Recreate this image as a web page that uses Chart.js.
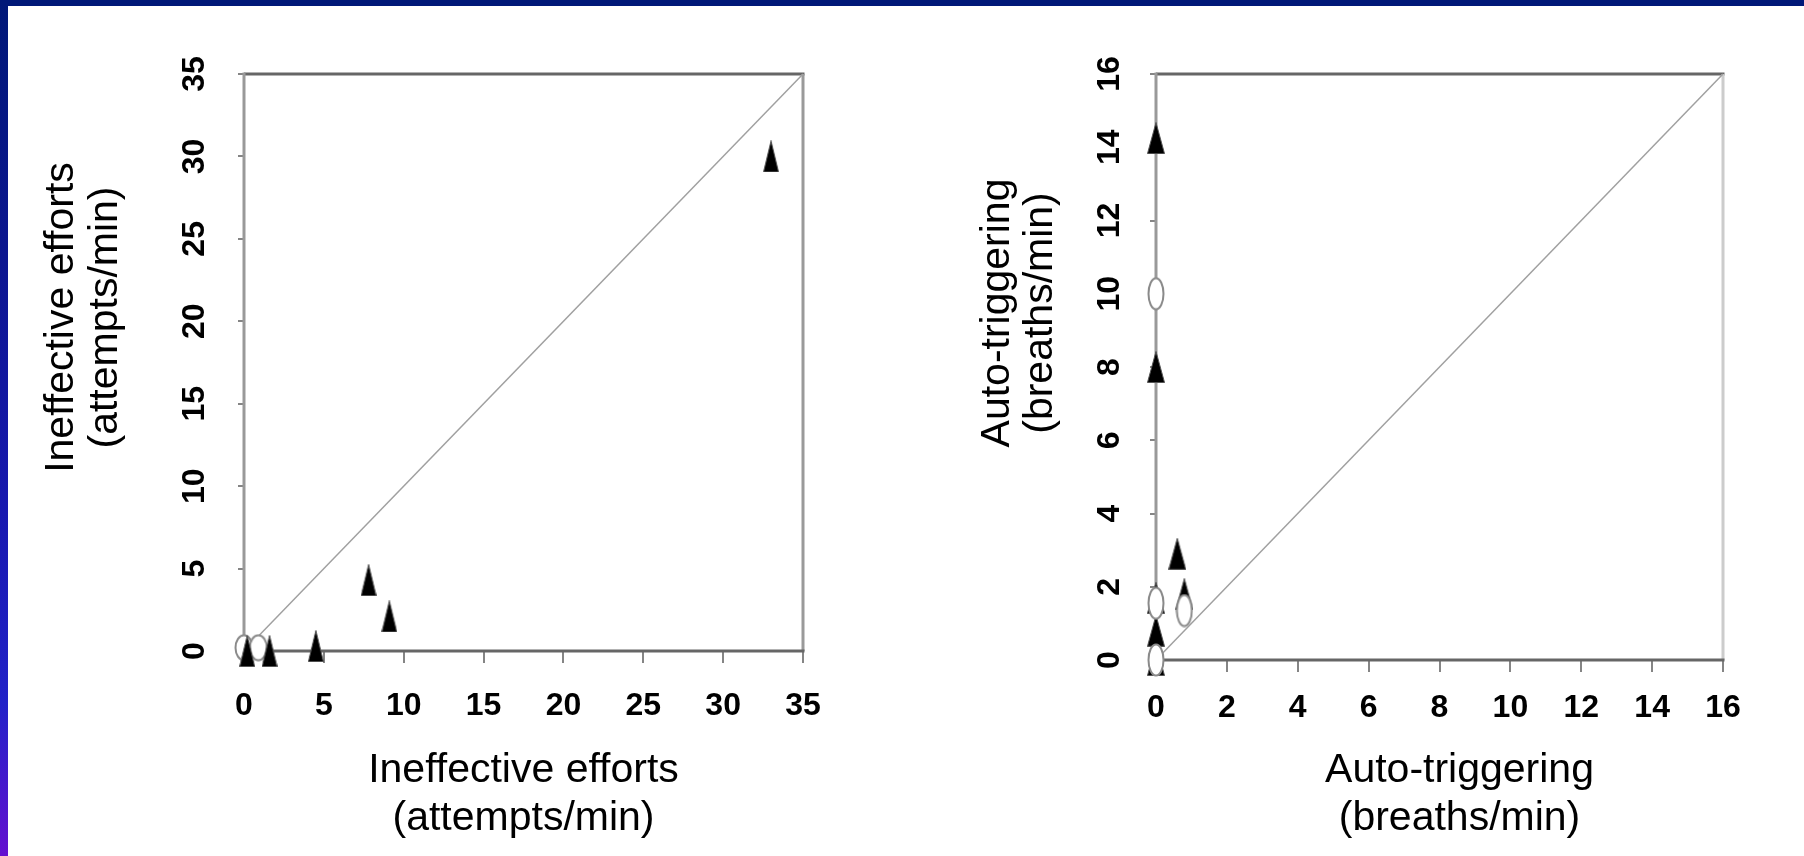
<!DOCTYPE html>
<html><head><meta charset="utf-8">
<script src="https://cdn.jsdelivr.net/npm/chart.js@4"></script>
<style>
html,body{margin:0;padding:0;background:#fff;}
body{width:1804px;height:856px;position:relative;overflow:hidden;}
#topbar{position:absolute;left:0;top:0;width:1804px;height:6px;background:#001878;z-index:3;}
#leftbar{position:absolute;left:0;top:0;width:8px;height:856px;z-index:3;background:linear-gradient(to bottom,#001878 0%,#0c1690 30%,#1818b0 60%,#2222c8 82%,#6410d0 100%);}
#c1wrap{position:absolute;left:0;top:0;width:900px;height:856px;}
#c2wrap{position:absolute;left:900px;top:0;width:904px;height:856px;}
</style></head>
<body>
<div id="topbar"></div><div id="leftbar"></div>
<div id="c1wrap"><canvas id="c1"></canvas></div>
<div id="c2wrap"><canvas id="c2"></canvas></div>
<script>
// ---- data ----
const leftXTicks = [0, 5, 10, 15, 20, 25, 30, 35];
const leftYTicks = [0, 5, 10, 15, 20, 25, 30, 35];
const rightXTicks = [0, 2, 4, 6, 8, 10, 12, 14, 16];
const rightYTicks = [0, 2, 4, 6, 8, 10, 12, 14, 16];

const ieTriangleX = [0.2, 1.6, 4.5, 7.8, 9.1, 33];
const ieTriangleY = [0, 0, 0.3, 4.3, 2.1, 30];
const ieOvalX = [0, 0.9];
const ieOvalY = [0.2, 0.2];
const ieDiagonal = [0, 35];

const atTriangleX = [0, 0, 0.6, 0.8, 0, 0, 0];
const atTriangleY = [14.25, 8, 2.9, 1.8, 1.7, 0.8, 0];
const atOvalX = [0, 0.8, 0, 0];
const atOvalY = [10, 1.35, 1.55, 0];
const atDiagonal = [0, 16];

const leftXTitle = ['Ineffective efforts', '(attempts/min)'];
const leftYTitle = ['Ineffective efforts', '(attempts/min)'];
const rightXTitle = ['Auto-triggering', '(breaths/min)'];
const rightYTitle = ['Auto-triggering', '(breaths/min)'];

// ---- markers ----
function triImg(w, h) {
  const c = document.createElement('canvas'); c.width = w; c.height = h;
  const g = c.getContext('2d');
  g.fillStyle = '#000'; g.strokeStyle = '#555'; g.lineWidth = 1;
  g.beginPath(); g.moveTo(w / 2, 0.5); g.lineTo(w - 0.5, h - 0.5); g.lineTo(0.5, h - 0.5); g.closePath();
  g.fill(); g.stroke();
  return c;
}
function ovalImg(w, h) {
  const c = document.createElement('canvas'); c.width = w; c.height = h;
  const g = c.getContext('2d');
  g.fillStyle = '#fff'; g.strokeStyle = '#8a8a8a'; g.lineWidth = 2;
  g.beginPath(); g.ellipse(w / 2, h / 2, w / 2 - 1.5, h / 2 - 1.5, 0, 0, 2 * Math.PI);
  g.fill(); g.stroke();
  return c;
}
const pts = (xs, ys) => xs.map((x, i) => ({ x: x, y: ys[i] }));
const diag = d => [{ x: d[0], y: d[0] }, { x: d[1], y: d[1] }];

const axisTextPlugin = {
  id: 'axisText',
  beforeDatasetsDraw(chart, args, o) {
    const a = chart.chartArea, ctx = chart.ctx;
    ctx.save();
    const line = (x1, y1, x2, y2, c, w) => { ctx.strokeStyle = c; ctx.lineWidth = w; ctx.beginPath(); ctx.moveTo(x1, y1); ctx.lineTo(x2, y2); ctx.stroke(); };
    line(a.left, a.top, a.right + 1.5, a.top, o.topColor, 3);
    line(a.right, a.top, a.right, a.bottom, o.rightColor, 3);
    line(a.left, a.top - 1.5, a.left, a.bottom, o.leftColor, 3);
    line(a.left, a.bottom, a.right + 1.5, a.bottom, o.bottomColor, 3);
    ctx.restore();
  },
  afterDraw(chart, args, o) {
    const a = chart.chartArea, ctx = chart.ctx, xs = chart.scales.x, ys = chart.scales.y;
    ctx.save();
    ctx.fillStyle = '#000';
    ctx.textAlign = 'center'; ctx.textBaseline = 'middle';
    ctx.font = 'bold 32px "Liberation Sans", Arial, sans-serif';
    xs.ticks.forEach(t => ctx.fillText(String(t.value), xs.getPixelForValue(t.value), a.bottom + o.xTickGap));
    ys.ticks.forEach(t => {
      ctx.save(); ctx.translate(a.left - o.yTickGap, ys.getPixelForValue(t.value));
      ctx.rotate(-Math.PI / 2); ctx.fillText(String(t.value), 0, 0); ctx.restore();
    });
    ctx.font = '41px "Liberation Sans", Arial, sans-serif';
    const cx = (a.left + a.right) / 2 + o.xTitleShift;
    o.xTitle.forEach((s, i) => ctx.fillText(s, cx, a.bottom + o.xTitleGaps[i]));
    const cy = (a.top + a.bottom) / 2 + o.yTitleShift;
    o.yTitle.forEach((s, i) => {
      ctx.save(); ctx.translate(a.left - o.yTitleGaps[i], cy);
      ctx.rotate(-Math.PI / 2); ctx.fillText(s, 0, 0); ctx.restore();
    });
    ctx.restore();
  }
};

function scaleCfg(min, max, tickArr, tickLen, isX) {
  return {
    type: 'linear', min: min, max: max,
    afterBuildTicks: s => { s.ticks = tickArr.map(v => ({ value: v })); },
    ticks: { display: false },
    grid: { drawOnChartArea: false, drawTicks: true, tickLength: tickLen, color: '#858585', lineWidth: 2 },
    border: { display: false },
    afterFit: s => { if (isX) s.height = 80; else s.width = 80; }
  };
}

function makeChart(id, cfg) {
  return new Chart(document.getElementById(id), {
    type: 'scatter',
    data: { datasets: cfg.datasets },
    options: {
      responsive: true, maintainAspectRatio: false, animation: false, events: [],
      layout: { padding: cfg.padding },
      plugins: { legend: { display: false }, tooltip: { enabled: false }, axisText: cfg.text },
      scales: {
        x: scaleCfg(cfg.xMin, cfg.xMax, cfg.xTicks, 12, true),
        y: scaleCfg(cfg.yMin, cfg.yMax, cfg.yTicks, 6, false)
      }
    },
    plugins: [axisTextPlugin]
  });
}

const triL = triImg(16, 32), ovalL = ovalImg(20, 28);
const triR = triImg(18, 32), ovalR = ovalImg(18, 34);

makeChart('c1', {
  xMin: 0, xMax: 35, yMin: 0, yMax: 35, xTicks: leftXTicks, yTicks: leftYTicks,
  padding: { left: 164, right: 97, top: 74, bottom: 125 },
  datasets: [
    { label: 'triangles', data: pts(ieTriangleX, ieTriangleY), pointStyle: triL, pointRadius: 10, clip: false },
    { label: 'ovals', data: pts(ieOvalX, ieOvalY), pointStyle: ovalL, pointRadius: 10, clip: false },
    { label: 'identity', data: diag(ieDiagonal), showLine: true, pointRadius: 0, borderColor: '#a0a0a0', borderWidth: 1.5, clip: false }
  ],
  text: { topColor: '#666', rightColor: '#9a9a9a', leftColor: '#999', bottomColor: '#666',
    xTickGap: 55, yTickGap: 49, xTitleShift: 0, xTitleGaps: [120, 168], yTitleGaps: [182, 138], yTitleShift: -45,
    xTitle: leftXTitle, yTitle: leftYTitle }
});

makeChart('c2', {
  xMin: 0, xMax: 16, yMin: 0, yMax: 16, xTicks: rightXTicks, yTicks: rightYTicks,
  padding: { left: 176, right: 81, top: 74, bottom: 116 },
  datasets: [
    { label: 'ovals', data: pts(atOvalX, atOvalY), pointStyle: ovalR, pointRadius: 10, clip: false },
    { label: 'triangles', data: pts(atTriangleX, atTriangleY), pointStyle: triR, pointRadius: 10, clip: false },
    { label: 'identity', data: diag(atDiagonal), showLine: true, pointRadius: 0, borderColor: '#a0a0a0', borderWidth: 1.5, clip: false }
  ],
  text: { topColor: '#666', rightColor: '#cccccc', leftColor: '#999', bottomColor: '#666',
    xTickGap: 48, yTickGap: 46, xTitleShift: 20, xTitleGaps: [111, 159], yTitleGaps: [158, 115], yTitleShift: -54,
    xTitle: rightXTitle, yTitle: rightYTitle }
});
</script>
</body></html>
